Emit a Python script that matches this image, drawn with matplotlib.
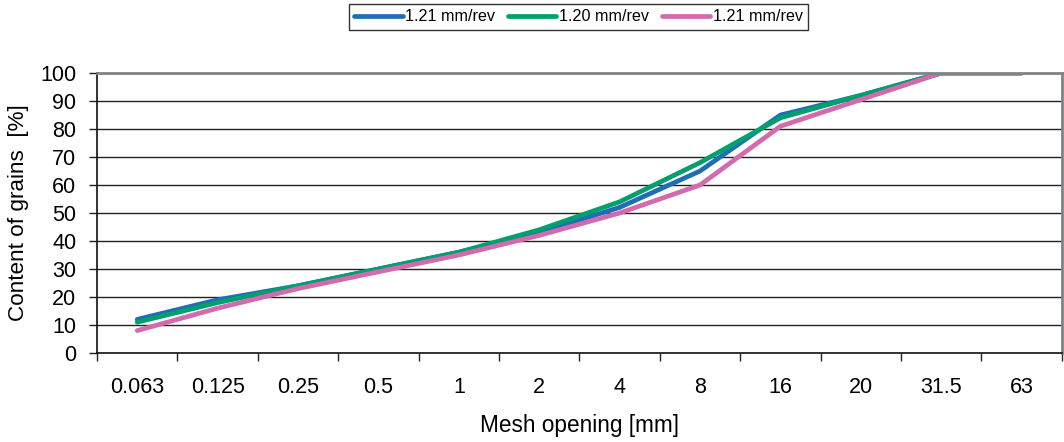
import matplotlib
matplotlib.use("Agg")
import matplotlib.pyplot as plt
import numpy as np

plt.rcParams["font.family"] = ["Liberation Sans", "DejaVu Sans"]

mesh = ["0.063", "0.125", "0.25", "0.5", "1", "2", "4", "8", "16", "20", "31.5", "63"]
feed_a = [12, 19, 24, 30, 36, 43, 52, 65, 85, 92, 100, 100]
feed_b = [11, 18, 24, 30, 36, 44, 54, 68, 84, 92, 100, 100]
feed_c = [8, 16, 23, 29, 35, 42, 50, 60, 81, 90.5, 100, 100]
series_labels = ["1.21 mm/rev", "1.20 mm/rev", "1.21 mm/rev"]
colors = ["#1f6db5", "#00a06e", "#d36aae"]

fig = plt.figure(figsize=(10.64, 4.42), dpi=100)
ax = fig.add_axes([0.0912, 0.2014, 0.9068, 0.6334])

x = np.arange(len(mesh))
for vals, lab, col in zip([feed_a, feed_b, feed_c], series_labels, colors):
    ax.plot(x, vals, color=col, lw=3.4, label=lab, solid_capstyle="round")

ax.set_xlim(-0.5, len(mesh) - 0.5)
ax.set_ylim(0, 100)
ax.set_yticks(np.arange(0, 101, 10))
for y in range(10, 100, 10):
    ax.axhline(y, color="#222222", lw=1.0, zorder=0)

# category labels in the middle, tick marks on the boundaries
ax.set_xticks(np.arange(-0.5, len(mesh)), labels=[])
ax.set_xticks(x, labels=mesh, minor=True)
ax.tick_params(axis="x", which="major", length=6, width=1, color="#222222")
ax.tick_params(axis="x", which="minor", length=0, pad=17, labelsize=15.5)
ax.tick_params(axis="y", length=6, width=1, color="#222222", pad=9, labelsize=15.5)

for side in ["left", "bottom"]:
    ax.spines[side].set_color("#111111")
    ax.spines[side].set_linewidth(1.2)
for side in ["top", "right"]:
    ax.spines[side].set_color("#7f8384")
    ax.spines[side].set_linewidth(2)

ax.set_xlabel("Mesh opening [mm]", fontsize=16.3, labelpad=12)
ax.set_ylabel("Content of grains  [%]", fontsize=16.2, labelpad=8)

leg = fig.legend(loc="upper center", bbox_to_anchor=(0.5437, 0.992), ncol=3,
                 fontsize=11.6, frameon=True, fancybox=False, handlelength=3.0,
                 handletextpad=0.15, columnspacing=0.8, borderpad=0.35,
                 borderaxespad=0)
leg.get_frame().set_edgecolor("black")
leg.get_frame().set_linewidth(1)

fig.savefig("out.png", dpi=100)
